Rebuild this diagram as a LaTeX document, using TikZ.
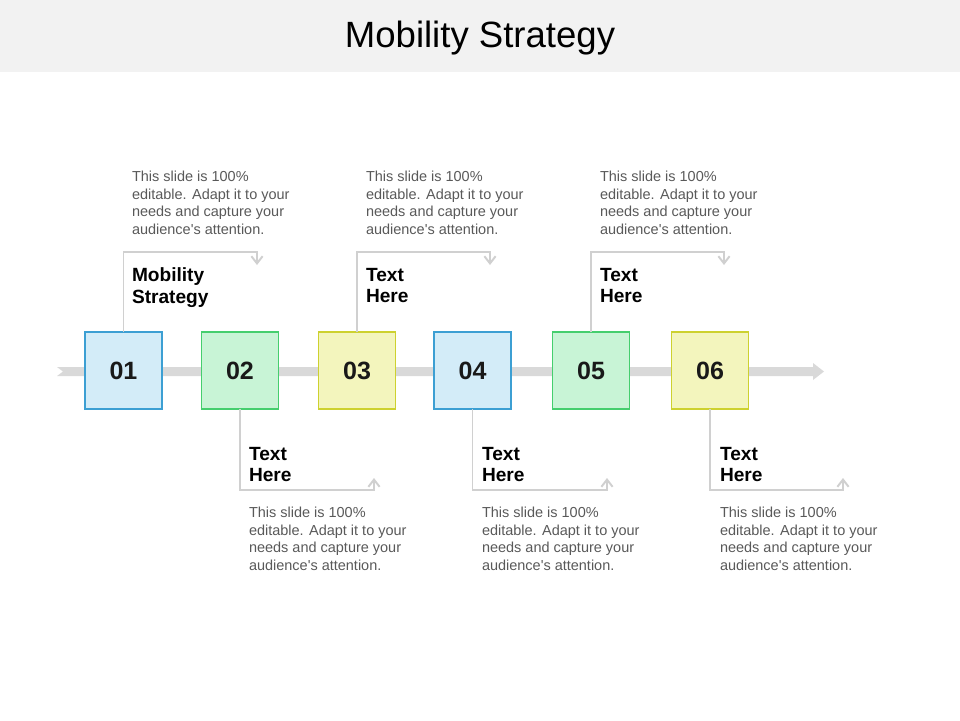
\documentclass[tikz,border=0pt]{standalone}
\usepackage{fontspec}
\setmainfont{Liberation Sans}
\usetikzlibrary{arrows.meta}
\definecolor{headgray}{HTML}{F2F2F2}
\definecolor{trackgray}{HTML}{D9D9D9}
\definecolor{linegray}{HTML}{D0D0D0}
\definecolor{descgray}{HTML}{595959}
\definecolor{blueline}{HTML}{3C9FD3}
\definecolor{bluefill}{HTML}{D3ECF8}
\definecolor{greenline}{HTML}{45CE6E}
\definecolor{greenfill}{HTML}{C8F4D6}
\definecolor{yellowline}{HTML}{CDD12F}
\definecolor{yellowfill}{HTML}{F3F5BD}
\newcommand{\slidetext}{This slide is 100\%\\editable. Adapt it to your\\needs and capture your\\audience\textquotesingle s attention.}
\begin{document}
\begin{tikzpicture}[x=0.25mm,y=-0.25mm,inner sep=0pt,outer sep=0pt,
numbox/.style={draw,rectangle,minimum width=19.25mm,minimum height=19.25mm,line width=1.4pt,text=black!90,font=\fontsize{17.8}{20}\selectfont\bfseries},
bluebox/.style={numbox,draw=blueline,fill=bluefill},
greenbox/.style={numbox,draw=greenline,fill=greenfill},
yellowbox/.style={numbox,draw=yellowline,fill=yellowfill},
link/.style={draw=linegray,line width=1.4pt,-{Straight Barb[length=1.8mm,width=2.8mm]}},
headtext/.style={anchor=north west,align=left,font=\fontsize{13.6}{15.4}\selectfont\bfseries},
desctext/.style={anchor=north west,align=left,text=descgray,font=\fontsize{10.3}{12.6}\selectfont}]
\useasboundingbox (0,0) rectangle (960,720);
\fill[headgray] (0,0) rectangle (960,72);
\draw (480,47) node[anchor=base,font=\fontsize{26}{30}\selectfont] (title) {Mobility Strategy};
% track arrow
\fill[trackgray] (57,367) -- (813,367) -- (813,363) -- (824,371.5) -- (813,380) -- (813,376) -- (57,376) -- (63,371.5) -- cycle;
% boxes
\draw (123.5,370.5) node[bluebox] (b1) {01};
\draw (240,370.5) node[greenbox] (b2) {02};
\draw (357,370.5) node[yellowbox] (b3) {03};
\draw (472.5,370.5) node[bluebox] (b4) {04};
\draw (591,370.5) node[greenbox] (b5) {05};
\draw (710,370.5) node[yellowbox] (b6) {06};
% connectors above
\coordinate (k1) at (257,252); \coordinate (e1) at (257,265);
\coordinate (k3) at (490,252); \coordinate (e3) at (490,265);
\coordinate (k5) at (724,252); \coordinate (e5) at (724,265);
\draw[link] (b1.north) |- (k1) -- (e1);
\draw[link] (b3.north) |- (k3) -- (e3);
\draw[link] (b5.north) |- (k5) -- (e5);
% connectors below
\coordinate (k2) at (374,490); \coordinate (e2) at (374,478);
\coordinate (k4) at (607,490); \coordinate (e4) at (607,478);
\coordinate (k6) at (843,490); \coordinate (e6) at (843,478);
\draw[link] (b2.south) |- (k2) -- (e2);
\draw[link] (b4.south) |- (k4) -- (e4);
\draw[link] (b6.south) |- (k6) -- (e6);
% headings
\draw (132,268) node[headtext] (h1) {Mobility\\Strategy};
\draw (366,268) node[headtext] (h3) {Text\\Here};
\draw (600,268) node[headtext] (h5) {Text\\Here};
\draw (249,447) node[headtext] (h2) {Text\\Here};
\draw (482,447) node[headtext] (h4) {Text\\Here};
\draw (720,447) node[headtext] (h6) {Text\\Here};
% descriptions
\draw (132,171) node[desctext] (d1) {\slidetext};
\draw (366,171) node[desctext] (d3) {\slidetext};
\draw (600,171) node[desctext] (d5) {\slidetext};
\draw (249,507) node[desctext] (d2) {\slidetext};
\draw (482,507) node[desctext] (d4) {\slidetext};
\draw (720,507) node[desctext] (d6) {\slidetext};
\end{tikzpicture}
\end{document}
